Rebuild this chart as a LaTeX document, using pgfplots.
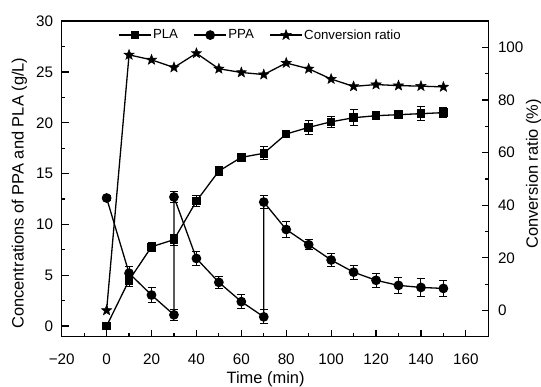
\documentclass[border=0pt]{standalone}
\usepackage{fontspec}
\setmainfont{Liberation Sans}
\usepackage{pgfplots}
\usepackage{pgfplotstable}
\pgfplotsset{compat=1.18}
\usetikzlibrary{plotmarks}

\pgfdeclareplotmark{fstar}{%
\pgfpathmoveto{\pgfpointpolar{90}{\pgfplotmarksize}}%
\pgfpathlineto{\pgfpointpolar{126}{0.42\pgfplotmarksize}}%
\pgfpathlineto{\pgfpointpolar{162}{\pgfplotmarksize}}%
\pgfpathlineto{\pgfpointpolar{198}{0.42\pgfplotmarksize}}%
\pgfpathlineto{\pgfpointpolar{234}{\pgfplotmarksize}}%
\pgfpathlineto{\pgfpointpolar{270}{0.42\pgfplotmarksize}}%
\pgfpathlineto{\pgfpointpolar{306}{\pgfplotmarksize}}%
\pgfpathlineto{\pgfpointpolar{342}{0.42\pgfplotmarksize}}%
\pgfpathlineto{\pgfpointpolar{18}{\pgfplotmarksize}}%
\pgfpathlineto{\pgfpointpolar{54}{0.42\pgfplotmarksize}}%
\pgfpathclose
\pgfusepathqfillstroke}

\pgfplotstableread{
t v e
0 0 0.2
10 4.5 0.57
20 7.8 0.44
30 8.5 0.55
40 12.3 0.5
50 15.25 0.46
60 16.6 0.3
70 17.0 0.62
80 18.9 0.3
90 19.55 0.7
100 20.1 0.56
110 20.5 0.8
120 20.7 0.35
130 20.8 0.35
140 20.9 0.69
150 21.0 0.5
}\pla

\pgfplotstableread{
t v e
0 12.6 0.2
10 5.2 0.7
20 3.05 0.7
30 1.1 0.52
30 12.7 0.57
40 6.65 0.66
50 4.3 0.57
60 2.4 0.66
70 0.9 0.69
70 12.2 0.62
80 9.5 0.74
90 8.0 0.5
100 6.5 0.62
110 5.3 0.7
120 4.5 0.69
130 4.0 0.79
140 3.8 0.87
150 3.7 0.79
}\ppa

\pgfplotstableread{
t v
0 0
10 97.2
20 95.3
30 92.4
40 97.8
50 91.9
60 90.5
70 89.7
80 94.1
90 91.9
100 88.0
110 85.2
120 85.9
130 85.5
140 85.3
150 85.0
}\conv

\pgfplotsset{
  plastyle/.style={black, line width=1.3bp, mark=square*, mark size=3.6bp, mark options={solid}},
  ppastyle/.style={black, line width=1.3bp, mark=*, mark size=4.2bp, mark options={solid}},
  convstyle/.style={black, line width=1.3bp, mark=fstar, mark size=5.5bp, mark options={solid, fill=black, line width=0.4bp}},
  myerr/.style={error bars/.cd, y dir=both, y explicit,
     error bar style={line width=1bp},
     error mark options={rotate=90, mark size=4bp, line width=1bp}},
  common/.style={scale only axis, width=426.6bp, height=315.5bp,
     xmin=-20, xmax=170,
     tick align=inside,
     major tick length=6.8bp, minor tick length=3.8bp,
     axis line style={line width=1.4bp},
     tick style={black, line width=1.2bp},
     tick label style={font=\fontsize{15.3}{17}\selectfont},
     /pgf/number format/assume math mode=true,
     label style={font=\fontsize{16.5}{18}\selectfont, inner sep=0pt}},
}

\begin{document}
\begin{tikzpicture}
\begin{axis}[common,
  ymin=-1.05, ymax=30,
  xtick={-20,0,...,160},
  xticklabels={−20,0,20,40,60,80,100,120,140,160},
  ytick={0,5,...,30},
  minor x tick num=1, minor y tick num=1,
  xtick pos=bottom, ytick pos=left,
  xticklabel style={anchor=base, inner sep=0pt, yshift=-27.8bp},
  yticklabel style={anchor=east, inner sep=0pt, xshift=-8.5bp},
  xlabel={Time (min)},
  ylabel={Concentrations of PPA and PLA (g/L)},
  xlabel style={at={(axis description cs:0.478,-0.148)}, anchor=base},
  ylabel style={at={(axis description cs:-0.099,0.455)}, anchor=center},
]
\coordinate (ll) at (rel axis cs:0,0);
\coordinate (ur) at (rel axis cs:1,1);
\addplot[plastyle, myerr] table[x=t, y=v, y error=e] {\pla};
\addplot[ppastyle, myerr] table[x=t, y=v, y error=e] {\ppa};
\end{axis}
\begin{axis}[common,
  ymin=-10, ymax=110,
  axis x line=none,
  axis y line*=right,
  ytick={0,20,...,100}, minor y tick num=1,
  yticklabel style={anchor=west, inner sep=0pt, xshift=9.5bp},
  ylabel={Conversion ratio (\%)},
  ylabel style={at={(axis description cs:1.106,0.516)}, anchor=center},
  legend image code/.code={\draw[mark repeat=2,mark phase=2,#1] plot coordinates {(0bp,0bp) (16bp,0bp) (32bp,0bp)};},
  legend style={at={(axis description cs:0.132,0.956)}, anchor=west, draw=none, fill=none,
     font=\fontsize{13.3}{15}\selectfont, inner sep=0pt, nodes={inner sep=1.5bp},
     /tikz/every even column/.append style={column sep=14bp}},
  legend columns=3, legend cell align=left,
]
\addlegendimage{plastyle}
\addlegendentry{PLA}
\addlegendimage{ppastyle}
\addlegendentry{PPA}
\addplot[convstyle] table[x=t, y=v] {\conv};
\addlegendentry{Conversion ratio}
\end{axis}
\pgfresetboundingbox
\path[use as bounding box] ([shift={(-61.7bp,-50.3bp)}]ll) rectangle ([shift={(52.7bp,21.2bp)}]ur);
\end{tikzpicture}
\end{document}
